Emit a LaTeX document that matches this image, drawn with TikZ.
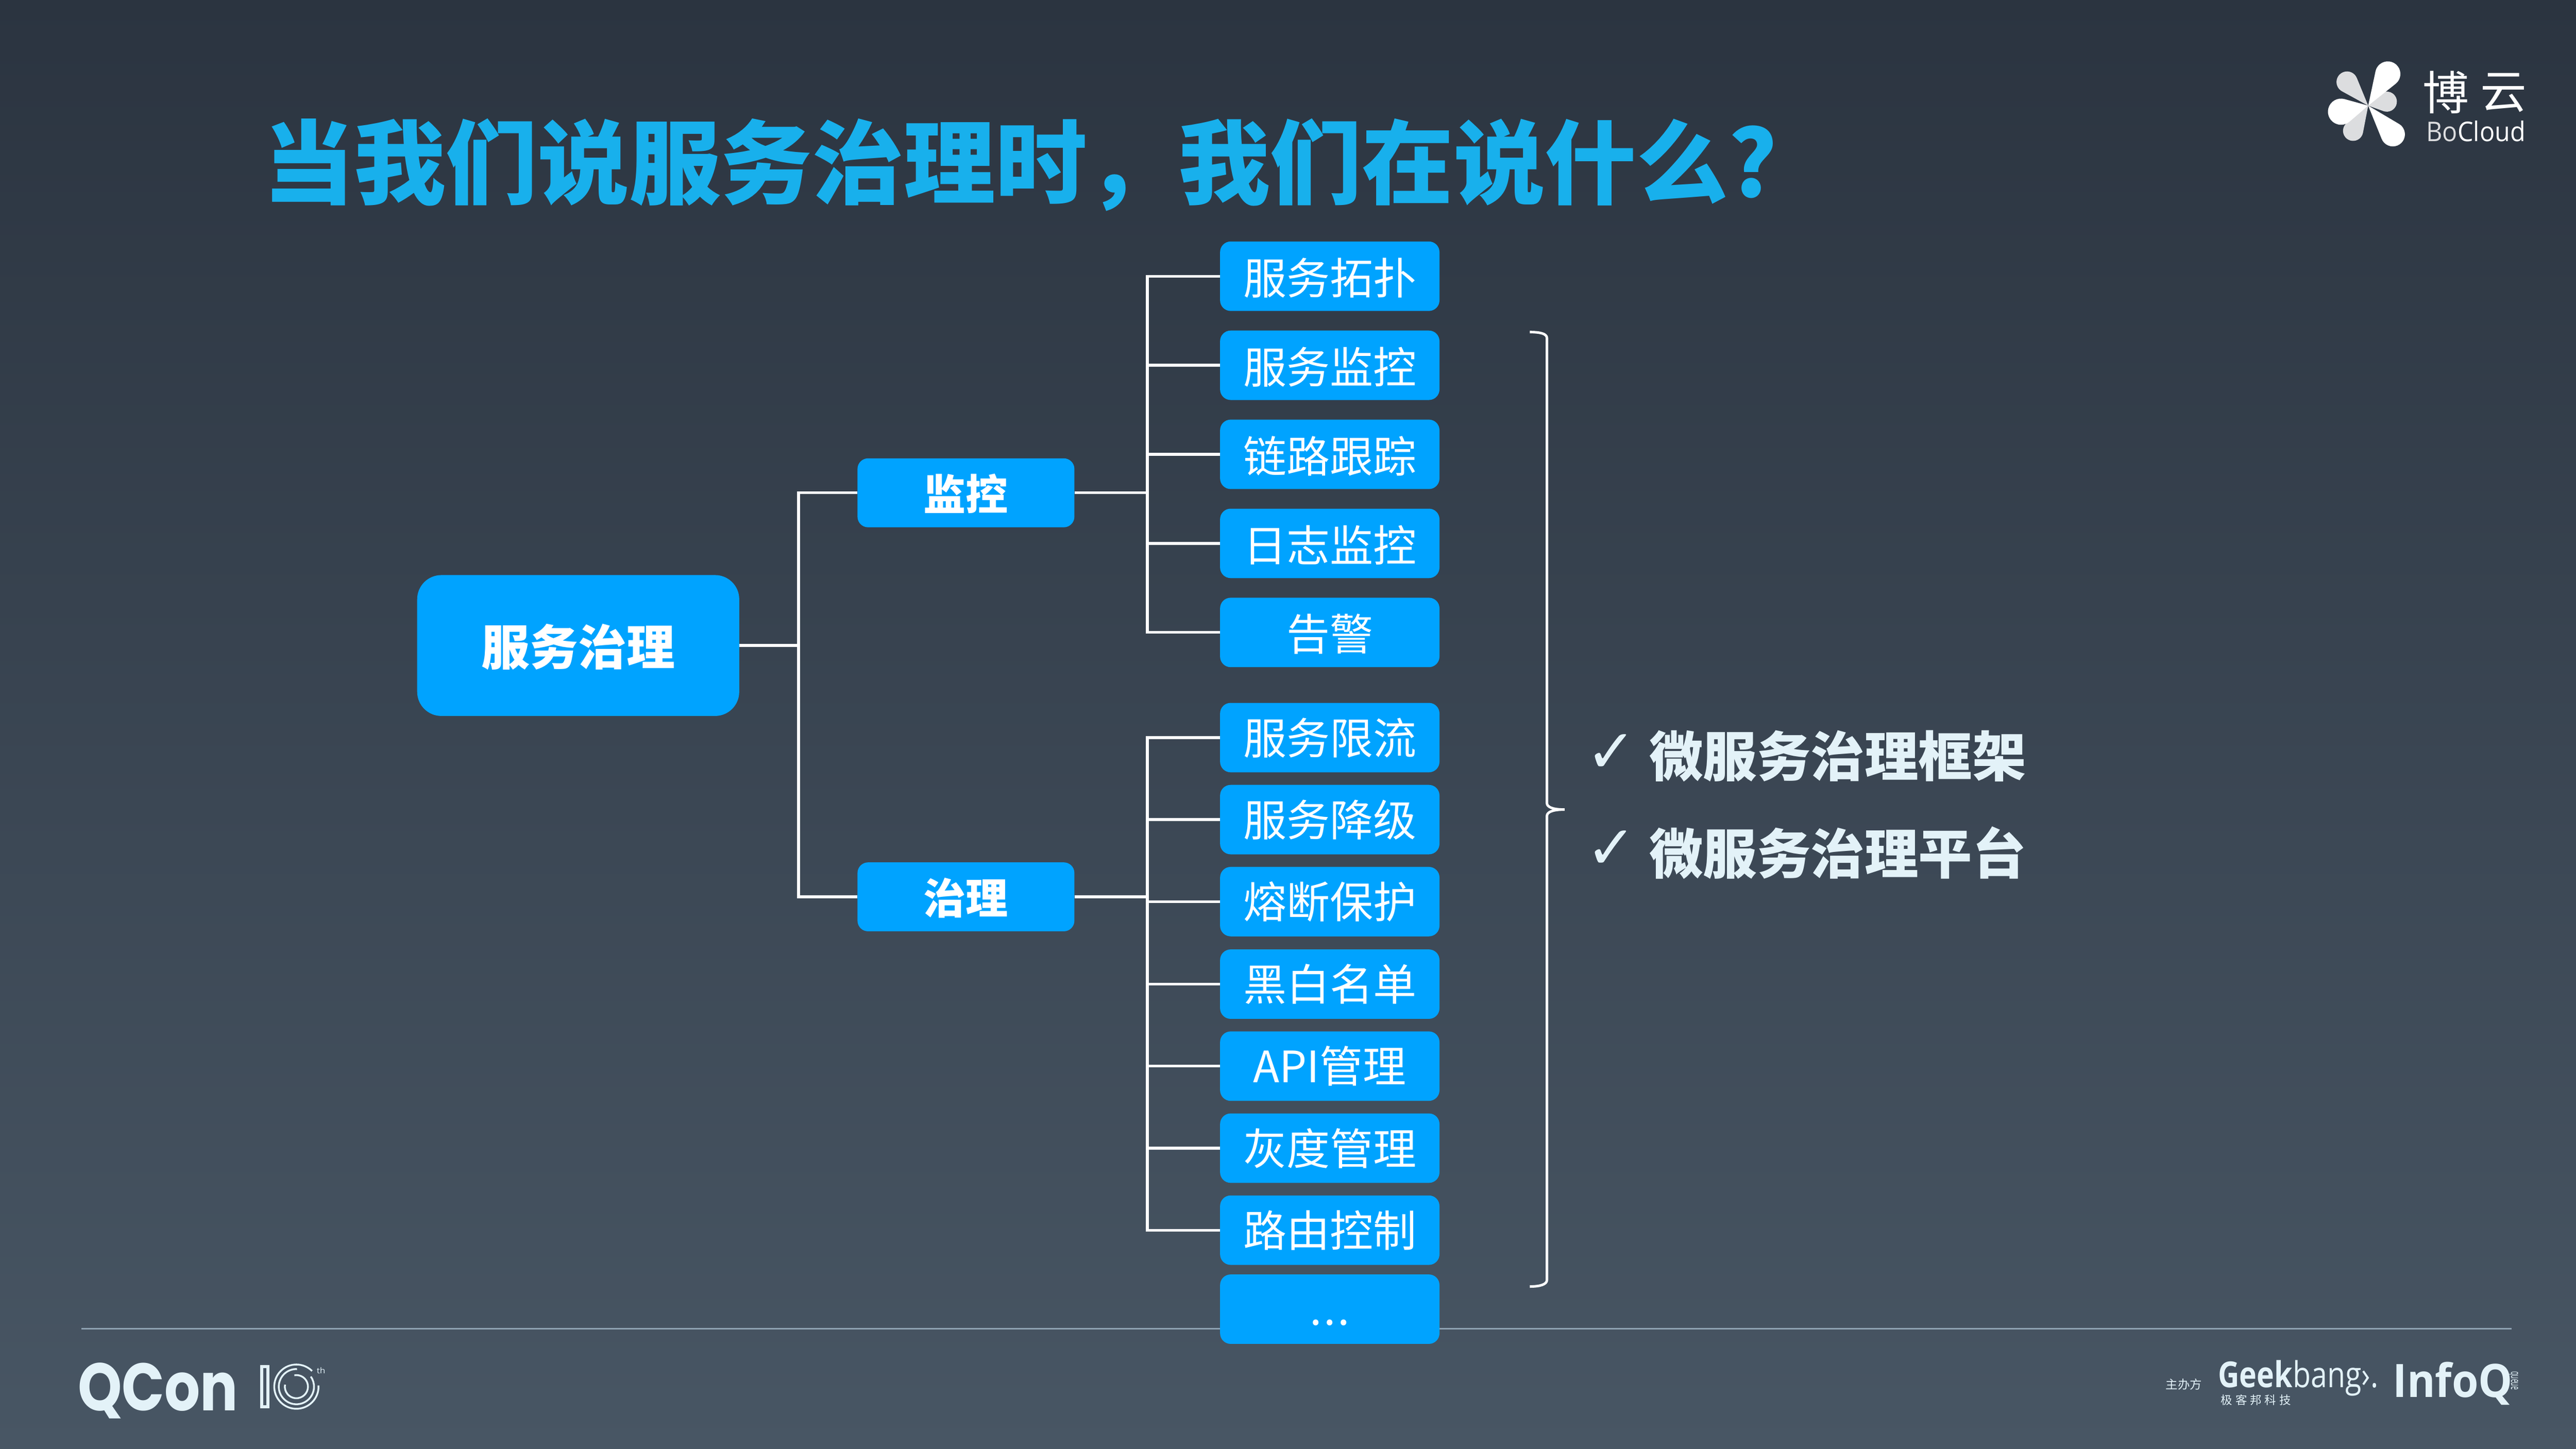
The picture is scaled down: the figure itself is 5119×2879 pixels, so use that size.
\documentclass[tikz,border=0pt]{standalone}
\usepackage{fontspec}
\usepackage{graphicx}
\setmainfont{Noto Sans CJK SC}
\newfontfamily\lat{Open Sans}
\newfontfamily\pop{Poppins}
\newfontfamily\djv{DejaVu Sans}
\newcommand{\fsz}[1]{\fontsize{#1}{#1}\selectfont}
\definecolor{nodeblue}{HTML}{00A3FF}
\definecolor{titleblue}{HTML}{18B0EC}
\definecolor{pale}{HTML}{E3F2F8}
\definecolor{rulec}{HTML}{8FA3B3}
\definecolor{logogrey}{HTML}{DCDDDF}
\definecolor{bgtop}{HTML}{2B3440}
\definecolor{bgbot}{HTML}{485664}
\tikzset{
 leaf/.style={fill=nodeblue,rounded corners=21pt,minimum width=436pt,minimum height=138pt,inner sep=0pt,text=white,font=\fsz{86},text height=79pt,text depth=7pt},
 leafb/.style={leaf,text height=76pt,text depth=10pt},
 midn/.style={fill=nodeblue,rounded corners=21pt,minimum width=431pt,minimum height=137pt,inner sep=0pt,text=white,font=\fsz{84}\bfseries,text height=76pt,text depth=7pt},
 mainn/.style={fill=nodeblue,rounded corners=48pt,minimum width=640pt,minimum height=280pt,inner sep=0pt,text=white,font=\fsz{96}\bfseries,text height=87pt,text depth=8pt},
 wire/.style={draw=white,line width=5.5pt},
 item/.style={text=pale,font=\fsz{107}\bfseries,inner sep=0pt,anchor=west,text height=93pt,text depth=13pt},
 tickm/.style={text=pale,font=\djv\fsz{120},inner sep=0pt},
 logo/.style={text=pale,inner sep=0pt},
 ringl/.style={draw=pale,line width=3.6pt},
}
% teardrop petal: ox oy cx cy r colour
\newcommand{\petal}[6]{%
 \pgfmathsetmacro\dx{#3-#1}\pgfmathsetmacro\dy{#4-#2}%
 \pgfmathsetmacro\dd{sqrt(\dx*\dx+\dy*\dy)}%
 \pgfmathsetmacro\an{atan2(-\dy,\dx)}%
 \pgfmathsetmacro\ha{asin(#5/\dd)}%
 \pgfmathsetmacro\tl{sqrt(\dd*\dd-#5*#5)}%
 \fill[#6] (#1,#2) -- ++(\an-\ha:\tl pt) arc[start angle=\an-\ha-90,end angle=\an+\ha+90,radius=#5pt] -- cycle;}
\begin{document}
\begin{tikzpicture}[x=1pt,y=-1pt]
\useasboundingbox (0,0) rectangle (5119,2879);
\shade[top color=bgtop,bottom color=bgbot] (0,0) rectangle (5119,2879);
% footer rule
\coordinate (ruleL) at (162,2641);
\coordinate (ruleR) at (4991,2641);
\draw[rulec,line width=3pt] (ruleL) -- (ruleR);
% title
\node[anchor=west,inner sep=0pt,text=titleblue,font=\fsz{182}\bfseries,text height=160pt,text depth=22pt] (title) at (522,323) {当我们说服务治理时，我们在说什么?};
% tree nodes
\node[mainn] (root) at (1149,1283) {服务治理};
\node[midn] (m1) at (1919.5,979.5) {监控};
\node[midn] (m2) at (1919.5,1782.5) {治理};
\node[leaf] (a1) at (2642.5,549) {服务拓扑};
\node[leaf] (a2) at (2642.5,726) {服务监控};
\node[leaf] (a3) at (2642.5,903) {链路跟踪};
\node[leaf] (a4) at (2642.5,1080) {日志监控};
\node[leaf] (a5) at (2642.5,1257) {告警};
\node[leafb] (b1) at (2642.5,1466) {服务限流};
\node[leafb] (b2) at (2642.5,1629) {服务降级};
\node[leafb] (b3) at (2642.5,1792) {熔断保护};
\node[leafb] (b4) at (2642.5,1956) {黑白名单};
\node[leafb] (b5) at (2642.5,2119) {API管理};
\node[leafb] (b6) at (2642.5,2282) {灰度管理};
\node[leafb] (b7) at (2642.5,2445) {路由控制};
\node[leaf,text height=0pt,text depth=0pt] (b8) at (2642.5,2602) {\smash{\raisebox{-32pt}{.\kern4pt.\kern4pt.}}};
% connectors
\coordinate (busR) at (1587,0);
\coordinate (busA) at (2280,0);
\draw[wire] (root.east) -- (root.east -| busR);
\draw[wire] (m1.west) -- (m1.west -| busR) -- (m2.west -| busR) -- (m2.west);
\draw[wire] (m1.east) -- (m1.east -| busA);
\draw[wire] (m2.east) -- (m2.east -| busA);
\draw[wire] (a1.west) -- (a1.west -| busA) -- (a5.west -| busA) -- (a5.west);
\foreach \n in {a2,a3,a4} \draw[wire] (\n.west) -- (\n.west -| busA);
\draw[wire] (b1.west) -- (b1.west -| busA) -- (b7.west -| busA) -- (b7.west);
\foreach \n in {b2,b3,b4,b5,b6} \draw[wire] (\n.west) -- (\n.west -| busA);
% brace
\coordinate (brTopEnd) at (3040,660);
\coordinate (brBotEnd) at (3040,2557);
\coordinate (brTip) at (3109,1609);
\draw[white,line width=5pt] (brTopEnd) .. controls (3060,660) and (3074,663) .. (3074,672) -- (3074,1596) .. controls (3074,1604) and (3085,1609) .. (brTip) .. controls (3085,1609) and (3074,1614) .. (3074,1622) -- (3074,2544) .. controls (3074,2553) and (3060,2557) .. (brBotEnd);
% items
\node[tickm] (t1) at (3202,1497) {✓};
\node[tickm] (t2) at (3202,1689) {✓};
\node[item] (i1) at (3277,1503) {微服务治理框架};
\node[item] (i2) at (3277,1697) {微服务治理平台};
% BoCloud logo
\petal{4706}{210}{4664}{163}{21}{logogrey}
\petal{4706}{210}{4743}{202}{20}{logogrey}
\petal{4706}{210}{4676}{260}{20}{logogrey}
\petal{4706}{210}{4745}{147}{25}{white}
\petal{4706}{210}{4755}{267}{24}{white}
\petal{4706}{210}{4652}{222}{26}{white}
\node[inner sep=0pt,text=white,font=\fsz{92}] (bo1) at (4860,184) {博};
\node[inner sep=0pt,text=white,font=\fsz{92}] (bo2) at (4975,184) {云};
\node[inner sep=0pt,text=white] (bo3) at (4920,261) {\resizebox{197pt}{41pt}{\lat\color{logogrey}Bo\color{white}Cloud}};
% QCon logo
\node[logo] (qc) at (314,2764) {\resizebox{318pt}{95pt}{\pop\bfseries QCon}};
\draw[pale,line width=6pt] (520,2716) rectangle (532,2796);
\coordinate (ring) at (589,2756);
\draw[ringl] (ring) ++(45:44pt) arc[start angle=45,end angle=363,radius=44pt];
\draw[ringl] (ring) ++(88:35pt) arc[start angle=88,end angle=395,radius=35pt];
\draw[ringl] (ring) ++(100:23pt) arc[start angle=100,end angle=-190,radius=23pt];
\node[logo] (th) at (638,2724) {\resizebox{17pt}{12pt}{\lat th}};
% organisers
\node[logo,font=\fsz{24}] (zb) at (4340,2751) {主办方};
\node[logo] (gk) at (4567,2739) {\resizebox{318pt}{54pt}{\lat{\bfseries Geek}bang›.}};
\node[logo,font=\fsz{23}] (jk) at (4483,2783) {极\kern6pt 客\kern6pt 邦\kern6pt 科\kern6pt 技};
\node[logo] (iq) at (4874,2750) {\resizebox{238pt}{70pt}{\lat\bfseries InfoQ}};
\node[logo,rotate=-90] (qu) at (4994,2744) {\resizebox{37pt}{14pt}{\lat queue}};
\end{tikzpicture}
\end{document}
